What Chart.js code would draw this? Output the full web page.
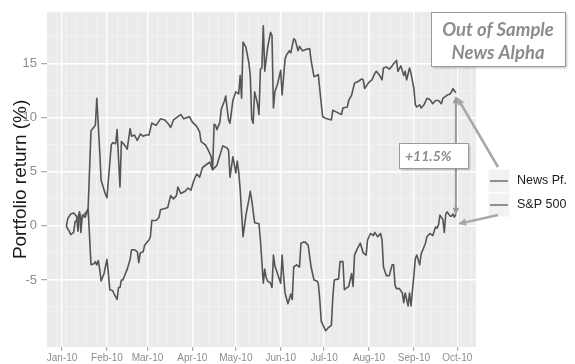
<!DOCTYPE html>
<html>
<head>
<meta charset="utf-8">
<script src="https://cdn.jsdelivr.net/npm/chart.js@4.4.1/dist/chart.umd.min.js"></script>
<style>
  html, body { margin: 0; padding: 0; background: #fff; }
  #wrap { width: 575px; height: 364px; }
</style>
</head>
<body>
<div id="wrap"><canvas id="myChart" width="575" height="364"></canvas></div>
<script>
// x values are day of year 2010 (0 = Jan 1)
const newsDays = [
  3, 4, 6, 8, 10, 11, 12, 13, 15, 17, 18, 20, 23, 24, 26, 27, 30,
  31, 34, 35, 37, 38, 40, 41, 43, 45, 47, 48, 50, 52, 54, 56, 58,
  60, 62, 65, 68, 71, 73, 75, 77, 80, 82, 84, 86, 88,
  90, 93, 95, 96, 99, 101, 103, 104, 105, 106, 107, 109, 110, 112, 113, 115, 116, 118,
  120, 122, 123, 124, 125, 127, 129, 130, 131, 132, 133, 135, 136, 137, 138, 139, 140, 141, 142, 144, 145, 146, 147, 149,
  151, 152, 154, 155, 157, 158, 160, 161, 163, 164, 166, 168, 171, 172, 174, 176, 177, 179, 180,
  183, 186, 187, 190, 193, 194, 197, 198, 200, 202, 205, 207, 208, 209,
  212, 214, 216, 217, 219, 221, 222, 224, 226, 228, 229, 231, 232, 234, 236, 237, 238, 240, 241,
  243, 244, 245, 247, 248, 250, 252, 254, 256, 258, 260, 262, 263, 266, 268, 269, 270, 272
];
const newsReturns = [
  0.0, 0.7, 1.1, 1.2, 0.9, -0.5, 1.3, 0.5, 1.0, 1.3, 1.6, 8.8, 9.3, 11.8, 6.9, 4.2, 2.9,
  2.6, 7.5, 7.7, 7.6, 8.9, 3.6, 7.8, 7.5, 7.1, 9.0, 8.3, 8.4, 7.9, 8.5, 8.3, 8.4,
  8.4, 9.5, 9.3, 9.9, 9.8, 9.5, 9.1, 9.8, 10.1, 10.3, 9.9, 10.0, 10.1,
  9.6, 9.2, 8.7, 7.8, 7.5, 7.0, 6.4, 5.2, 9.4, 9.3, 8.9, 9.6, 10.8, 11.5, 12.0, 9.8, 9.5, 11.6,
  12.4, 12.2, 13.9, 11.8, 17.0, 16.5, 15.1, 13.9, 9.9, 9.5, 12.4, 11.3, 10.3, 14.5, 14.6, 18.5, 14.3, 15.4, 16.5, 17.9, 17.6, 10.9, 12.4, 13.2,
  14.4, 12.1, 15.4, 15.8, 16.2, 16.0, 17.3, 17.2, 16.2, 16.6, 16.2, 16.3, 16.4, 15.3, 13.8, 13.9, 14.0, 11.3, 10.1,
  9.9, 9.8, 10.7, 10.5, 10.3, 10.9, 11.0, 11.6, 12.1, 13.2, 13.4, 13.6, 13.5, 12.7,
  13.3, 13.5, 14.1, 14.3, 14.0, 13.5, 14.6, 14.7, 14.5, 14.8, 15.0, 15.3, 14.3, 14.8, 13.9, 14.3, 13.5, 14.6, 14.1,
  12.7, 11.2, 11.0, 11.2, 10.9, 11.2, 11.8, 11.7, 11.3, 11.6, 11.6, 11.3, 11.8, 12.1, 12.2, 12.4, 12.7, 12.3
];
const spDays = [
  3, 4, 5, 6, 8, 9, 10, 12, 13, 14, 16, 18, 20, 22, 23, 24, 25, 26, 27, 29,
  31, 32, 33, 35, 36, 38, 39, 40, 41, 42, 45, 47, 48, 50, 52, 53, 54, 56, 57,
  60, 61, 62, 65, 67, 68, 71, 73, 75, 77, 79, 80, 82, 85, 87, 89,
  91, 93, 95, 97, 100, 102, 104, 107, 108, 109, 111, 114, 115, 116, 118,
  120, 121, 122, 123, 125, 127, 129, 130, 131, 133, 136, 137, 139, 140, 141, 142, 144, 145, 146, 147, 149,
  151, 152, 153, 154, 156, 158, 159, 160, 162, 164, 165, 167, 168, 170, 172, 174, 176, 177, 178, 179,
  182, 184, 186, 187, 188, 191, 192, 194, 195, 198, 200, 201, 202, 204, 206, 208, 210, 211,
  213, 215, 216, 218, 220, 221, 222, 224, 226, 228, 229, 230, 231, 233, 235, 236, 237, 238, 239, 240, 241,
  243, 244, 245, 247, 248, 251, 252, 254, 256, 258, 259, 260, 261, 263, 264, 265, 266, 268, 269, 270, 271, 272
];
const spReturns = [
  0.0, -0.3, -0.5, -0.8, -0.6, 0.4, 0.5, 1.2, -0.6, 1.0, 0.8, 1.6, -3.6, -3.5, -3.3, -3.6, -3.2, -4.0, -5.1, -4.4,
  -3.1, -4.4, -5.9, -6.0, -6.3, -6.8, -5.7, -5.7, -5.0, -5.0, -4.0, -3.1, -2.2, -2.2, -2.4, -3.4, -2.5, -2.4, -1.8,
  -1.3, -1.0, 0.5, 0.5, 0.8, 1.5, 1.6, 1.7, 2.8, 2.5, 2.8, 3.6, 3.0, 3.2, 3.5, 3.3,
  4.2, 4.8, 4.5, 5.4, 5.7, 5.9, 5.2, 5.6, 6.1, 6.5, 7.4, 7.2, 7.0, 4.5, 6.4,
  4.9, 6.0, 5.0, 3.4, -1.0, 1.0, 2.4, 3.2, 2.4, 0.3, 0.2, -1.3, -5.3, -4.0, -4.8, -5.1, -5.3, -5.7, -2.7, -3.7, -4.5,
  -5.3, -2.7, -4.6, -6.2, -7.2, -6.3, -6.8, -3.8, -3.6, -3.8, -1.6, -1.5, -1.5, -1.8, -3.8, -5.0, -5.1, -5.3, -6.8, -8.8,
  -9.7, -9.4, -9.2, -6.6, -5.0, -4.9, -3.3, -3.3, -5.9, -5.6, -4.4, -5.6, -2.7, -2.1, -1.6, -2.5, -2.7, -1.3,
  -0.7, -0.9, -0.6, -1.0, -0.7, -1.3, -3.8, -4.6, -4.6, -3.6, -3.6, -5.5, -5.8, -5.8, -6.2, -7.1, -6.2, -6.8, -7.4, -6.2, -7.4,
  -4.6, -3.0, -2.7, -3.6, -2.6, -1.6, -1.0, -0.7, -0.9, -0.1, -0.2, 0.1, 1.0, 0.6, -0.6, 1.1, 1.3, 0.9, 0.9, 1.1, 0.8, 1.1
];
const seriesLabels = ['News Pf.', 'S&P 500'];
const monthStarts = [0, 31, 59, 90, 120, 151, 181, 212, 243, 273];
const monthLabels = ['Jan-10', 'Feb-10', 'Mar-10', 'Apr-10', 'May-10', 'Jun-10', 'Jul-10', 'Aug-10', 'Sep-10', 'Oct-10'];
const yTicks = [-5, 0, 5, 10, 15];
const yMinorTicks = [-7.5, -2.5, 2.5, 7.5, 12.5, 17.5];
const alphaTitle = ['Out of Sample', 'News Alpha'];
const alphaGap = '+11.5%';

const FONT = "'Liberation Sans', Arial, sans-serif";
const LINE_COLOR = '#555555';

function toPoints(days, values) {
    return days.map((d, i) => ({ x: d, y: values[i] }));
}

// weekly minor grid (Mondays) plus month starts
function xTickValues() {
    const vals = monthStarts.slice();
    for (let d = -4; d <= 284; d += 7) {
        if (!vals.includes(d)) vals.push(d);
    }
    return vals.sort((a, b) => a - b);
}

function drawArrow(ctx, x1, y1, x2, y2, color, width, head, both) {
    const ang = Math.atan2(y2 - y1, x2 - x1);
    ctx.strokeStyle = color;
    ctx.fillStyle = color;
    ctx.lineWidth = width;
    const sx = both ? x1 + Math.cos(ang) * head * 0.7 : x1;
    const sy = both ? y1 + Math.sin(ang) * head * 0.7 : y1;
    ctx.beginPath();
    ctx.moveTo(sx, sy);
    ctx.lineTo(x2 - Math.cos(ang) * head * 0.7, y2 - Math.sin(ang) * head * 0.7);
    ctx.stroke();
    const tip = (x, y, a) => {
        ctx.beginPath();
        ctx.moveTo(x, y);
        ctx.lineTo(x - head * Math.cos(a - 0.42), y - head * Math.sin(a - 0.42));
        ctx.lineTo(x - head * Math.cos(a + 0.42), y - head * Math.sin(a + 0.42));
        ctx.closePath();
        ctx.fill();
    };
    tip(x2, y2, ang);
    if (both) tip(x1, y1, ang + Math.PI);
}

function drawBox(ctx, x, y, w, h) {
    ctx.save();
    ctx.shadowColor = 'rgba(0,0,0,0.25)';
    ctx.shadowOffsetX = 1.5;
    ctx.shadowOffsetY = 1.5;
    ctx.shadowBlur = 2;
    ctx.fillStyle = '#ffffff';
    ctx.fillRect(x, y, w, h);
    ctx.restore();
    ctx.strokeStyle = '#9a9a9a';
    ctx.lineWidth = 1;
    ctx.strokeRect(x + 0.5, y + 0.5, w, h);
}

const panelBackground = {
    id: 'panelBackground',
    beforeDraw(chart) {
        const { ctx, chartArea: a } = chart;
        ctx.save();
        ctx.fillStyle = '#ffffff';
        ctx.fillRect(0, 0, chart.width, chart.height);
        ctx.fillStyle = '#ebebeb';
        ctx.fillRect(a.left, a.top, a.right - a.left, a.bottom - a.top);
        ctx.restore();
    }
};

const annotations = {
    id: 'annotations',
    afterDraw(chart) {
        const { ctx } = chart;
        const xs = chart.scales.x;
        const ys = chart.scales.y;
        const xEnd = xs.getPixelForValue(newsDays[newsDays.length - 1]);
        const yNews = ys.getPixelForValue(newsReturns[newsReturns.length - 1]);
        const ySp = ys.getPixelForValue(spReturns[spReturns.length - 1]);
        ctx.save();

        // legend outside the panel
        const rows = [181, 205];
        chart.data.datasets.forEach((ds, i) => {
            const y = rows[i];
            ctx.fillStyle = '#f2f2f2';
            ctx.fillRect(488, y - 12, 22, 24);
            ctx.strokeStyle = '#ffffff';
            ctx.lineWidth = 1;
            ctx.strokeRect(488, y - 12, 22, 24);
            ctx.strokeStyle = '#777777';
            ctx.lineWidth = 1.6;
            ctx.beginPath();
            ctx.moveTo(490, y);
            ctx.lineTo(508, y);
            ctx.stroke();
            ctx.fillStyle = '#1a1a1a';
            ctx.font = '12.5px ' + FONT;
            ctx.textAlign = 'left';
            ctx.textBaseline = 'middle';
            ctx.fillText(ds.label, 517, y);
        });

        // arrows
        drawArrow(ctx, xEnd, yNews + 3, xEnd, ySp + 1, '#9a9a9a', 2, 8, true);
        drawArrow(ctx, 498, 167, xEnd + 1, yNews + 4, '#a8a8a8', 2.5, 9, false);
        drawArrow(ctx, 498, 215, xEnd + 2, ySp + 10, '#a8a8a8', 2.5, 9, false);

        // boxes
        drawBox(ctx, 399, 143, 69, 25);
        ctx.fillStyle = '#8c8c8c';
        ctx.font = "italic bold 14px Lato, 'Open Sans', sans-serif";
        ctx.textAlign = 'left';
        ctx.textBaseline = 'middle';
        ctx.fillText(alphaGap, 405, 156);

        drawBox(ctx, 431, 12, 134, 54);
        ctx.fillStyle = '#8c8c8c';
        ctx.font = "italic bold 18.5px Lato, 'Open Sans', sans-serif";
        ctx.textAlign = 'center';
        ctx.fillText(alphaTitle[0], 498, 30);
        ctx.fillText(alphaTitle[1], 498, 53);
        ctx.restore();
    }
};

document.addEventListener('DOMContentLoaded', function() {
    const data = {
        datasets: [{
            label: seriesLabels[0],
            data: toPoints(newsDays, newsReturns),
            borderColor: LINE_COLOR,
            borderWidth: 1.6,
            pointRadius: 0,
            tension: 0,
            borderJoinStyle: 'round'
        }, {
            label: seriesLabels[1],
            data: toPoints(spDays, spReturns),
            borderColor: LINE_COLOR,
            borderWidth: 1.6,
            pointRadius: 0,
            tension: 0,
            borderJoinStyle: 'round'
        }]
    };

    const config = {
        type: 'line',
        data: data,
        plugins: [panelBackground, annotations],
        options: {
            responsive: false,
            animation: false,
            devicePixelRatio: 1,
            layout: { padding: { top: 7, right: 99, left: 0, bottom: 0 } },
            plugins: { legend: { display: false }, tooltip: { enabled: false } },
            scales: {
                x: {
                    type: 'linear',
                    min: -10.4,
                    max: 285.9,
                    afterBuildTicks: s => { s.ticks = xTickValues().map(v => ({ value: v })); },
                    afterFit: s => { s.height = 17; },
                    border: { display: false },
                    grid: {
                        color: c => monthStarts.includes(c.tick.value) ? '#ffffff' : '#f4f4f4',
                        lineWidth: c => monthStarts.includes(c.tick.value) ? 1.4 : 0.8,
                        tickColor: c => monthStarts.includes(c.tick.value) ? '#9a9a9a' : 'rgba(0,0,0,0)',
                        tickWidth: 1,
                        tickLength: 4
                    },
                    ticks: {
                        autoSkip: false,
                        maxRotation: 0,
                        padding: 1,
                        color: '#8c8c8c',
                        font: { family: FONT, size: 10 },
                        callback: v => {
                            const i = monthStarts.indexOf(v);
                            return i >= 0 ? monthLabels[i] : '';
                        }
                    }
                },
                y: {
                    min: -11.2,
                    max: 19.8,
                    afterBuildTicks: s => {
                        s.ticks = yTicks.concat(yMinorTicks).sort((a, b) => a - b).map(v => ({ value: v }));
                    },
                    afterFit: s => { s.width = 47; },
                    border: { display: false },
                    grid: {
                        color: c => yTicks.includes(c.tick.value) ? '#ffffff' : '#f4f4f4',
                        lineWidth: c => yTicks.includes(c.tick.value) ? 1.4 : 0.8,
                        tickColor: c => yTicks.includes(c.tick.value) ? '#9a9a9a' : 'rgba(0,0,0,0)',
                        tickWidth: 1,
                        tickLength: 6
                    },
                    ticks: {
                        autoSkip: false,
                        padding: 4,
                        color: '#8c8c8c',
                        font: { family: FONT, size: 13 },
                        callback: v => yTicks.includes(v) ? String(v) : ''
                    },
                    title: {
                        display: true,
                        text: 'Portfolio return (%)',
                        color: '#1a1a1a',
                        font: { family: FONT, size: 19 },
                        padding: { top: 9, bottom: 0 }
                    }
                }
            }
        }
    };

    const ctx = document.getElementById('myChart').getContext('2d');
    const myChart = new Chart(ctx, config);
});
</script>
</body>
</html>
